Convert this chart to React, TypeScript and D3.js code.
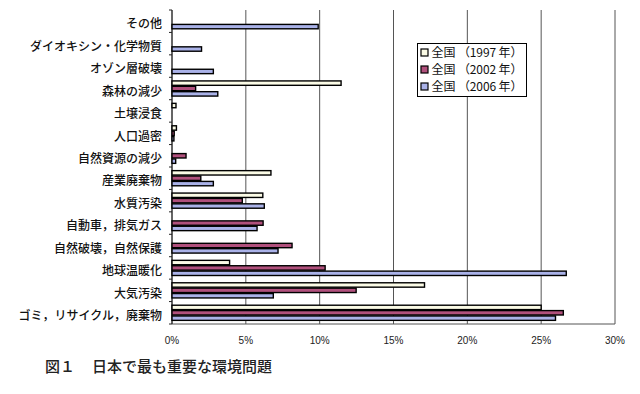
import * as d3 from "d3";

const categories = [
  "その他",
  "ダイオキシン・化学物質",
  "オゾン層破壊",
  "森林の減少",
  "土壌浸食",
  "人口過密",
  "自然資源の減少",
  "産業廃棄物",
  "水質汚染",
  "自動車，排気ガス",
  "自然破壊，自然保護",
  "地球温暖化",
  "大気汚染",
  "ゴミ，リサイクル，廃棄物",
];
const v1997 = [null, null, null, 11.45, 0.27, 0.3, null, 6.7, 6.15, null, null, 3.9, 17.1, 25.0];
const v2002 = [null, null, null, 1.6, null, 0.15, 0.95, 1.95, 4.76, 6.17, 8.13, 10.37, 12.47, 26.5];
const v2006 = [9.9, 2.0, 2.8, 3.1, null, 0.13, 0.25, 2.8, 6.25, 5.76, 7.18, 26.7, 6.86, 25.97];
const seriesNames = ["全国 （1997 年）", "全国 （2002 年）", "全国 （2006 年）"];
const xTicks = [0, 5, 10, 15, 20, 25, 30];

const colors = ["#fbfbe6", "#b0507c", "#aab2e8"];
const font = "'Noto Sans CJK JP', 'Noto Sans', sans-serif";

export default function App() {
  const width = 640;
  const height = 394;
  const m = {left: 172, top: 10, right: 25, bottom: 70};
  const iw = width - m.left - m.right;
  const ih = height - m.top - m.bottom;

  const x = d3.scaleLinear().domain([0, 30]).range([0, iw]);
  const y = d3.scaleBand<string>().domain(categories).range([0, ih]).paddingInner(0.28).paddingOuter(0.14);
  const series = [v1997, v2002, v2006];
  const y1 = d3.scaleBand<number>().domain([0, 1, 2]).range([0, y.bandwidth()]);
  const step = y.step();

  return (
    <svg width={width} height={height} style={{position: "absolute", left: 0, top: 0, background: "#fff"}}>
      <g transform={`translate(${m.left},${m.top})`}>
        {xTicks.map(t => (
          <line key={t} x1={x(t)} x2={x(t)} y1={0} y2={ih} stroke="#555" strokeWidth={1} />
        ))}
        <line x1={0} x2={iw} y1={ih} y2={ih} stroke="#555" />
        <line x1={0} x2={0} y1={0} y2={ih} stroke="#222" />
        {d3.range(categories.length + 1).map(i => (
          <line key={i} x1={-3} x2={0} y1={i * step} y2={i * step} stroke="#222" />
        ))}
        {categories.map((c, i) => (
          <g key={c} transform={`translate(0,${y(c)})`}>
            {series.map((s, k) => {
              const v = s[i];
              if (v == null) return null;
              return (
                <rect key={k} x={0} y={y1(k)! + 0.5} width={x(v)} height={y1.bandwidth() - 1}
                      fill={colors[k]} stroke="#000" strokeWidth={1.4} />
              );
            })}
            <text x={-10} y={y.bandwidth() / 2 + 3} dy="0.35em" textAnchor="end"
                  fontSize={12} fontFamily={font} fontWeight={500} fill="#111">{c}</text>
          </g>
        ))}
        {xTicks.map(t => (
          <text key={t} x={x(t)} y={ih + 20} textAnchor="middle" fontSize={10}
                fontFamily="Arial, 'Liberation Sans', sans-serif" fill="#222">{t}%</text>
        ))}
      </g>
      <g transform="translate(417.5,43.5)">
        <rect width={109} height={53} fill="#fff" stroke="#000" />
        {seriesNames.map((n, k) => (
          <g key={n} transform={`translate(0,${9 + k * 17})`}>
            <rect x={3.5} y={-3.5} width={7} height={7} fill={colors[k]} stroke="#000" strokeWidth={1.2} />
            <text x={14} y={0} dy="0.35em" fontSize={12} fontFamily={font} fill="#111"
                  textLength={91} lengthAdjust="spacing">{n}</text>
          </g>
        ))}
      </g>
      <text x={45} y={367} dy="0.35em" fontSize={15} fontFamily={font} fontWeight={500} fill="#222">図１</text>
      <text x={92} y={367} dy="0.35em" fontSize={15} fontFamily={font} fontWeight={500} fill="#222">日本で最も重要な環境問題</text>
    </svg>
  );
}
